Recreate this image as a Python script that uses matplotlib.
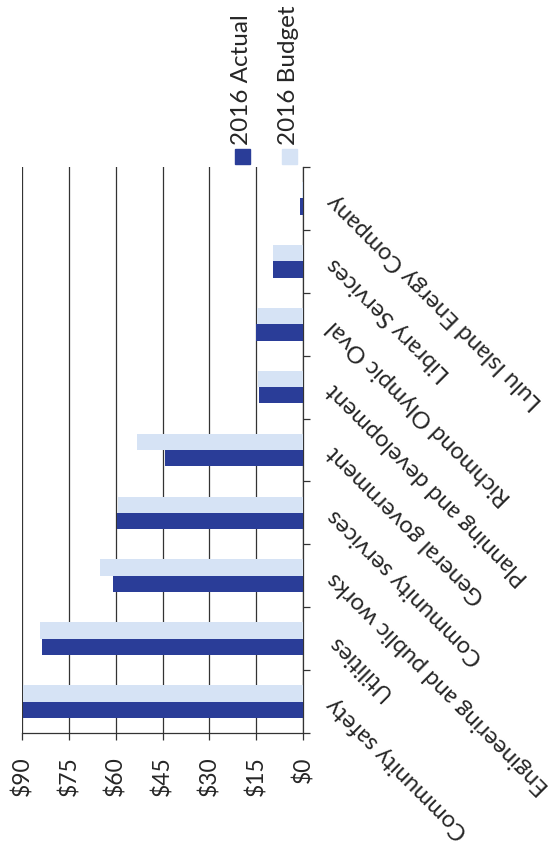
import numpy as np
import matplotlib
matplotlib.use("Agg")
import matplotlib.pyplot as plt
from matplotlib.patches import Rectangle

categories = ["Community safety", "Utilities", "Engineering and public works",
              "Community services", "General government", "Planning and development",
              "Richmond Olympic Oval", "Library Services", "Lulu Island Energy Company"]
actual_2016 = [89.6, 83.7, 61.0, 59.5, 44.2, 14.1, 15.0, 9.7, 1.0]
budget_2016 = [89.8, 84.2, 65.0, 59.3, 53.2, 14.4, 14.8, 9.6, 0.3]
value_ticks = [0, 15, 30, 45, 60, 75, 90]
series_names = ["2016 Actual", "2016 Budget"]

DARK = "#2a3d98"
LIGHT = "#d6e3f5"
INK = "#262626"
LINE = "#333333"

plt.rcParams["font.family"] = ["Lato", "DejaVu Sans"]

W, H = 558, 852
fig = plt.figure(figsize=(W / 100, H / 100), dpi=100)
ax = fig.add_axes([22 / W, 119 / H, 281 / W, 566 / H])

y = np.arange(len(categories))
h = 0.26
ax.barh(y - h / 2, actual_2016, height=h, color=DARK, zorder=3)
ax.barh(y + h / 2, budget_2016, height=h, color=LIGHT, zorder=3)

# value axis runs right to left, $0 at the category axis
ax.set_xlim(90, 0)
ax.set_ylim(-0.5, len(categories) - 0.5)
ax.set_xticks(value_ticks)
ax.set_xticklabels([f"${v}" for v in value_ticks], rotation=90, fontsize=16.5, color=INK)
ax.xaxis.grid(True, color=LINE, lw=0.9, zorder=0)
ax.tick_params(axis="x", length=5, width=0.9, color=LINE, pad=12)

# categories on the right, tick marks between groups
ax.yaxis.tick_right()
ax.set_yticks(y)
ax.set_yticklabels(categories, fontsize=17, color=INK)
ax.set_yticks(np.arange(-0.5, len(categories)), minor=True)
ax.tick_params(axis="y", which="major", length=0, pad=20)
ax.tick_params(axis="y", which="minor", length=5, width=0.9, color=LINE,
               right=True, left=False)
plt.setp(ax.get_yticklabels(), rotation=135, rotation_mode="anchor",
         ha="right", va="center")

for side in ["top", "left"]:
    ax.spines[side].set_visible(False)
for side in ["right", "bottom"]:
    ax.spines[side].set_color(LINE)
    ax.spines[side].set_linewidth(0.9)

# legend, drawn standing up above the plot
for i, (name, col) in enumerate(zip(series_names, [DARK, LIGHT])):
    cx = (242 + 47 * i) / W
    fig.patches.append(Rectangle((cx - 7.5 / W, (H - 164) / H), 15 / W, 15 / H,
                                 transform=fig.transFigure, color=col))
    fig.text(cx, (H - 145) / H, name, rotation=90, ha="center", va="bottom",
             fontsize=17.5, color=INK)

fig.savefig("out.png", dpi=100)
